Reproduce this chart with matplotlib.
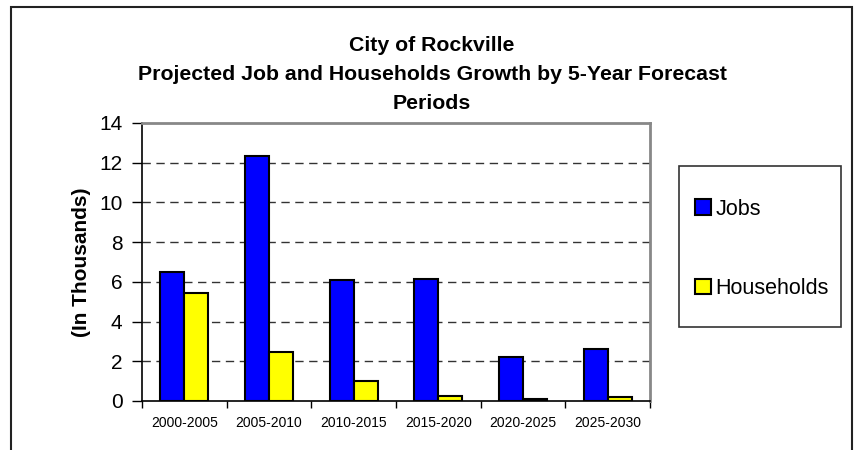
import matplotlib.pyplot as plt
from matplotlib.patches import Patch, Rectangle
import numpy as np

plt.rcParams['font.family'] = ['Liberation Sans', 'DejaVu Sans']

periods = ["2000-2005", "2005-2010", "2010-2015", "2015-2020", "2020-2025", "2025-2030"]
jobs = [6.5, 12.35, 6.1, 6.15, 2.2, 2.62]
households = [5.44, 2.48, 1.0, 0.25, 0.1, 0.2]

fig = plt.figure(figsize=(8.55, 4.5), dpi=100)
ax = fig.add_axes([142/855, 1 - 401/450, 508/855, 278/450])

x = np.arange(len(periods))
w = 0.283
ax.bar(x - w/2, jobs, w, color='#0000ff', edgecolor='black', linewidth=1.5, zorder=3, label='Jobs')
ax.bar(x + w/2, households, w, color='#ffff00', edgecolor='black', linewidth=1.5, zorder=3, label='Households')

ax.set_xlim(-0.5, len(periods) - 0.5)
ax.set_ylim(0, 14)
ax.set_yticks(range(0, 15, 2))
ax.tick_params(axis='y', labelsize=15, direction='out', length=7, width=1, pad=7)

# category labels centred, ticks at boundaries
ax.set_xticks(x)
ax.set_xticklabels(periods, fontsize=10)
ax.set_xticks(np.arange(-0.5, len(periods), 1), minor=True)
ax.tick_params(axis='x', which='major', length=0, pad=10.5)
ax.tick_params(axis='x', which='minor', direction='out', length=5, width=1)

for yv in range(2, 14, 2):
    ax.axhline(yv, color='#333333', linewidth=1, dashes=(6, 4), zorder=1)

for s in ['top', 'right']:
    ax.spines[s].set_color('#888888')
    ax.spines[s].set_linewidth(2)
for s in ['left', 'bottom']:
    ax.spines[s].set_color('black')
    ax.spines[s].set_linewidth(1.2)

ax.set_ylabel("(In Thousands)", fontsize=15, fontweight='bold', labelpad=6)
# title is centred over the whole chart frame, not the plot area
ax.set_title("City of Rockville\nProjected Job and Households Growth by 5-Year Forecast\nPeriods",
             fontsize=15.3, fontweight='bold', linespacing=1.68, pad=10, x=(432 - 142) / 508)

# legend box
fig.patches.append(Rectangle((679/855, 1 - 327/450), 162/855, 161/450, transform=fig.transFigure,
                             facecolor='white', edgecolor='#333333', linewidth=1.2))
handles = [Patch(facecolor='#0000ff', edgecolor='black', linewidth=1.5, label='Jobs'),
           Patch(facecolor='#ffff00', edgecolor='black', linewidth=1.5, label='Households')]
fig.legend(handles=handles, loc='center left', bbox_to_anchor=(695/855, 1 - 249/450),
           frameon=False, fontsize=15.5, handlelength=0.75, handleheight=0.7,
           handletextpad=0.2, labelspacing=2.74, borderpad=0, borderaxespad=0)

# outer chart frame (bottom edge runs off the image)
fig.patches.append(Rectangle((11/855, -0.05), 841/855, 1.05 - 7/450, transform=fig.transFigure,
                             facecolor='none', edgecolor='#222222', linewidth=1.5, clip_on=False))

fig.savefig("out.png", dpi=100)
